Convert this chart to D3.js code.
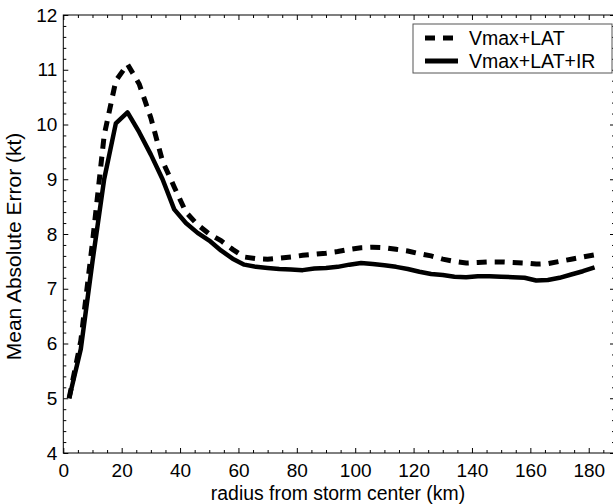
<!DOCTYPE html>
<html>
<head>
<meta charset="utf-8">
<script src="https://cdn.jsdelivr.net/npm/d3@7"></script>
<style>
  body { margin: 0; background: #fff; }
  svg { display: block; font-family: "Liberation Sans", Arial, Helvetica, sans-serif; }
  .tick text { font-size: 19px; fill: #000; }
  .tick line { stroke: #000; }
</style>
</head>
<body>
<svg id="chart" width="613" height="504"></svg>
<script>
// radius (km) of each sample
const radius = [2, 6, 10, 14, 18, 22, 26, 30, 34, 38, 42, 46, 50, 54, 58, 62, 66, 70, 74, 78,
  82, 86, 90, 94, 98, 102, 106, 110, 114, 118, 122, 126, 130, 134, 138, 142, 146, 150, 154, 158,
  162, 166, 170, 174, 178, 182];

// Vmax+LAT (dashed)
const maeLat = [5.00, 6.05, 7.85, 9.80, 10.80, 11.10, 10.74, 10.12, 9.33, 8.86, 8.40, 8.17, 8.00, 7.88, 7.72, 7.58, 7.55, 7.54, 7.56, 7.58,
  7.61, 7.63, 7.65, 7.68, 7.72, 7.75, 7.76, 7.75, 7.72, 7.69, 7.64, 7.60, 7.54, 7.50, 7.47, 7.48, 7.49, 7.49, 7.48, 7.47,
  7.45, 7.46, 7.50, 7.54, 7.58, 7.62];

// Vmax+LAT+IR (solid)
const maeLatIr = [5.00, 5.90, 7.50, 9.00, 10.02, 10.22, 9.86, 9.45, 9.00, 8.45, 8.20, 8.02, 7.88, 7.70, 7.55, 7.44, 7.40, 7.38, 7.36, 7.35,
  7.34, 7.37, 7.38, 7.40, 7.44, 7.47, 7.45, 7.43, 7.40, 7.36, 7.31, 7.27, 7.25, 7.22, 7.21, 7.23, 7.23, 7.22, 7.21, 7.20,
  7.15, 7.16, 7.20, 7.26, 7.32, 7.39];

const xTicks = [0, 20, 40, 60, 80, 100, 120, 140, 160, 180];
const yTicks = [4, 5, 6, 7, 8, 9, 10, 11, 12];
const legendLabels = ["Vmax+LAT", "Vmax+LAT+IR"];

const svg = d3.select("#chart");
const margin = { top: 15, right: -2, bottom: 51, left: 63.3 };
const width = 613, height = 504;
const xMax = 189;

const x = d3.scaleLinear()
    .domain([0, xMax])
    .range([margin.left, width - margin.right]);

const y = d3.scaleLinear()
    .domain([4, 12])
    .range([height - margin.bottom, margin.top]);

// minor ticks
const xMinor = d3.range(0, xMax, 5).filter(v => v % 20 !== 0);
const yMinor = d3.range(4, 12.001, 0.2).map(v => +v.toFixed(1)).filter(v => Math.abs(v - Math.round(v)) > 0.01);

function noDomain(g) { g.select(".domain").remove(); }

// bottom axis
svg.append("g")
    .attr("transform", `translate(0,${y(4)})`)
    .call(d3.axisBottom(x).tickValues(xTicks).tickSize(-5).tickPadding(11).tickFormat(d3.format("d")))
    .call(noDomain);
svg.append("g")
    .attr("transform", `translate(0,${y(4)})`)
    .call(d3.axisBottom(x).tickValues(xMinor).tickSize(-3).tickFormat(""))
    .call(noDomain);

// top axis
svg.append("g")
    .attr("transform", `translate(0,${y(12)})`)
    .call(d3.axisTop(x).tickValues(xTicks).tickSize(-5).tickFormat(""))
    .call(noDomain);
svg.append("g")
    .attr("transform", `translate(0,${y(12)})`)
    .call(d3.axisTop(x).tickValues(xMinor).tickSize(-3).tickFormat(""))
    .call(noDomain);

// left axis
svg.append("g")
    .attr("transform", `translate(${x(0)},0)`)
    .call(d3.axisLeft(y).tickValues(yTicks).tickSize(-5).tickPadding(6).tickFormat(d3.format("d")))
    .call(noDomain);
svg.append("g")
    .attr("transform", `translate(${x(0)},0)`)
    .call(d3.axisLeft(y).tickValues(yMinor).tickSize(-3).tickFormat(""))
    .call(noDomain);

// right axis (frame edge sits just outside the picture)
svg.append("g")
    .attr("transform", `translate(${x(xMax)},0)`)
    .call(d3.axisRight(y).tickValues(yTicks).tickSize(-5).tickFormat(""))
    .call(noDomain);
svg.append("g")
    .attr("transform", `translate(${x(xMax)},0)`)
    .call(d3.axisRight(y).tickValues(yMinor).tickSize(-3).tickFormat(""))
    .call(noDomain);

// frame
svg.append("rect")
    .attr("x", x(0))
    .attr("y", y(12))
    .attr("width", x(xMax) - x(0))
    .attr("height", y(4) - y(12))
    .attr("fill", "none")
    .attr("stroke", "#000")
    .attr("stroke-width", 1);

// lines
const line = d3.line()
    .x((d, i) => x(radius[i]))
    .y(d => y(d));

svg.append("path")
    .datum(maeLat)
    .attr("fill", "none")
    .attr("stroke", "#000")
    .attr("stroke-width", 5)
    .attr("stroke-dasharray", "10,8")
    .attr("d", line);

svg.append("path")
    .datum(maeLatIr)
    .attr("fill", "none")
    .attr("stroke", "#000")
    .attr("stroke-width", 4.5)
    .attr("stroke-linejoin", "round")
    .attr("d", line);

// axis titles
svg.append("text")
    .attr("x", 338)
    .attr("y", 500)
    .attr("text-anchor", "middle")
    .attr("font-size", 19.4)
    .text("radius from storm center (km)");

svg.append("text")
    .attr("transform", "translate(21,246.5) rotate(-90)")
    .attr("text-anchor", "middle")
    .attr("font-size", 21)
    .text("Mean Absolute Error (kt)");

// legend
const legend = svg.append("g");
legend.append("rect")
    .attr("x", 413)
    .attr("y", 24)
    .attr("width", 199)
    .attr("height", 49)
    .attr("fill", "#fff")
    .attr("stroke", "#555")
    .attr("stroke-width", 1);

legendLabels.forEach((label, i) => {
    const ly = 38 + i * 23;
    legend.append("line")
        .attr("x1", 425).attr("x2", 458)
        .attr("y1", ly).attr("y2", ly)
        .attr("stroke", "#000")
        .attr("stroke-width", 5)
        .attr("stroke-dasharray", i === 0 ? "10,8" : null);
    legend.append("text")
        .attr("x", 469)
        .attr("y", ly)
        .attr("dy", "0.35em")
        .attr("font-size", 19.5)
        .text(label);
});
</script>
</body>
</html>
